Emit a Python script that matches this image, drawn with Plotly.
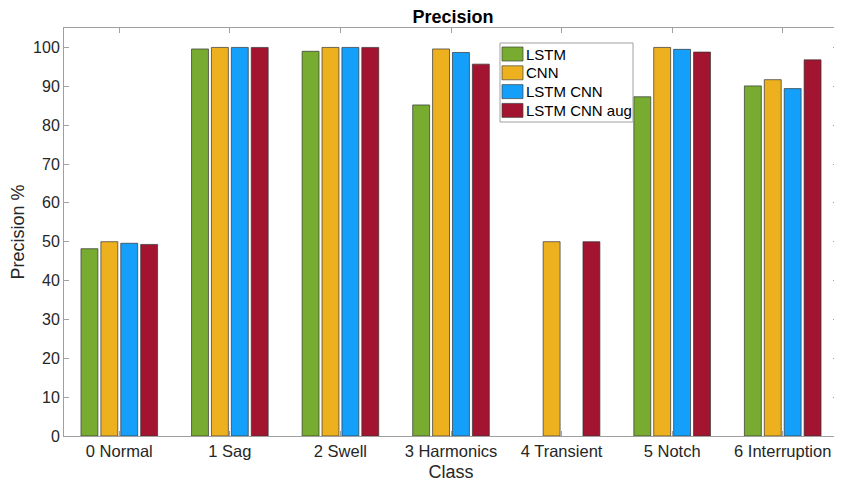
import plotly.graph_objects as go

categories = ["0 Normal", "1 Sag", "2 Swell", "3 Harmonics", "4 Transient", "5 Notch", "6 Interruption"]
lstm = [48.2, 99.6, 99.0, 85.2, None, 87.3, 90.1]
cnn = [50.0, 100.0, 100.0, 99.6, 50.0, 100.0, 91.7]
lstm_cnn = [49.6, 100.0, 100.0, 98.7, None, 99.5, 89.4]
lstm_cnn_aug = [49.3, 100.0, 100.0, 95.7, 50.0, 98.8, 96.8]
series_names = ["LSTM", "CNN", "LSTM CNN", "LSTM CNN aug"]
colors = ["#77AC30", "#EDB120", "#149FFA", "#A2142F"]
y_ticks = [0, 10, 20, 30, 40, 50, 60, 70, 80, 90, 100]

# page has an 8px body margin, so the figure is drawn 8px smaller
W, H = 834, 480
ML, MR, MT, MB = 56, 4, 20, 52
PW, PH = W - ML - MR, H - MT - MB


def px(fx):
    return (fx - ML) / PW


def py(fy):
    return (H - MB - fy) / PH


fig = go.Figure()
for name, vals, col in zip(series_names, [lstm, cnn, lstm_cnn, lstm_cnn_aug], colors):
    fig.add_trace(go.Bar(x=categories, y=vals, name=name,
                         marker=dict(color=col, line=dict(color="#333333", width=0.7))))

axis_common = dict(showline=True, linecolor="#A0A0A0", linewidth=1, mirror="allticks",
                   ticks="inside", tickcolor="#A0A0A0", ticklen=5, automargin=False,
                   showgrid=False, zeroline=False)

# custom legend (box, swatches, labels)
shapes = [dict(type="rect", xref="paper", yref="paper",
               x0=px(492), x1=px(625), y0=py(114), y1=py(35),
               line=dict(color="#A0A0A0", width=1), fillcolor="white", layer="above")]
annotations = []
row0, step = 46, 18.8
for i, (name, col) in enumerate(zip(series_names, colors)):
    cy = row0 + i * step
    shapes.append(dict(type="rect", xref="paper", yref="paper",
                       x0=px(494), x1=px(515), y0=py(cy + 7), y1=py(cy - 7),
                       line=dict(color="#444444", width=0.7), fillcolor=col, layer="above"))
    annotations.append(dict(xref="paper", yref="paper", x=px(516), y=py(cy),
                            xanchor="left", yanchor="middle", text=name, showarrow=False,
                            font=dict(size=15, color="#000000")))

fig.update_layout(
    width=W, height=H,
    margin=dict(l=ML, r=MR, t=MT, b=MB),
    paper_bgcolor="white", plot_bgcolor="white",
    font=dict(family="Liberation Sans, Arial, sans-serif", color="#262626"),
    title=dict(text="<b>Precision</b>", x=445 / W, xanchor="center",
               y=1 - 9 / H, yanchor="middle", font=dict(size=18, color="#000000")),
    barmode="group", bargap=0.28, bargroupgap=0.15,
    showlegend=False,
    shapes=shapes, annotations=annotations,
)
fig.update_xaxes(**axis_common, range=[-0.5, 6.5], tickfont=dict(size=16.5, color="#262626"),
                 title=dict(text="Class", font=dict(size=18, color="#262626"), standoff=6))
fig.update_yaxes(**axis_common, range=[0, 105], tickvals=y_ticks,
                 tickfont=dict(size=16, color="#262626"),
                 title=dict(text="Precision %", font=dict(size=18, color="#262626"), standoff=6))

fig.write_html("out.html")
